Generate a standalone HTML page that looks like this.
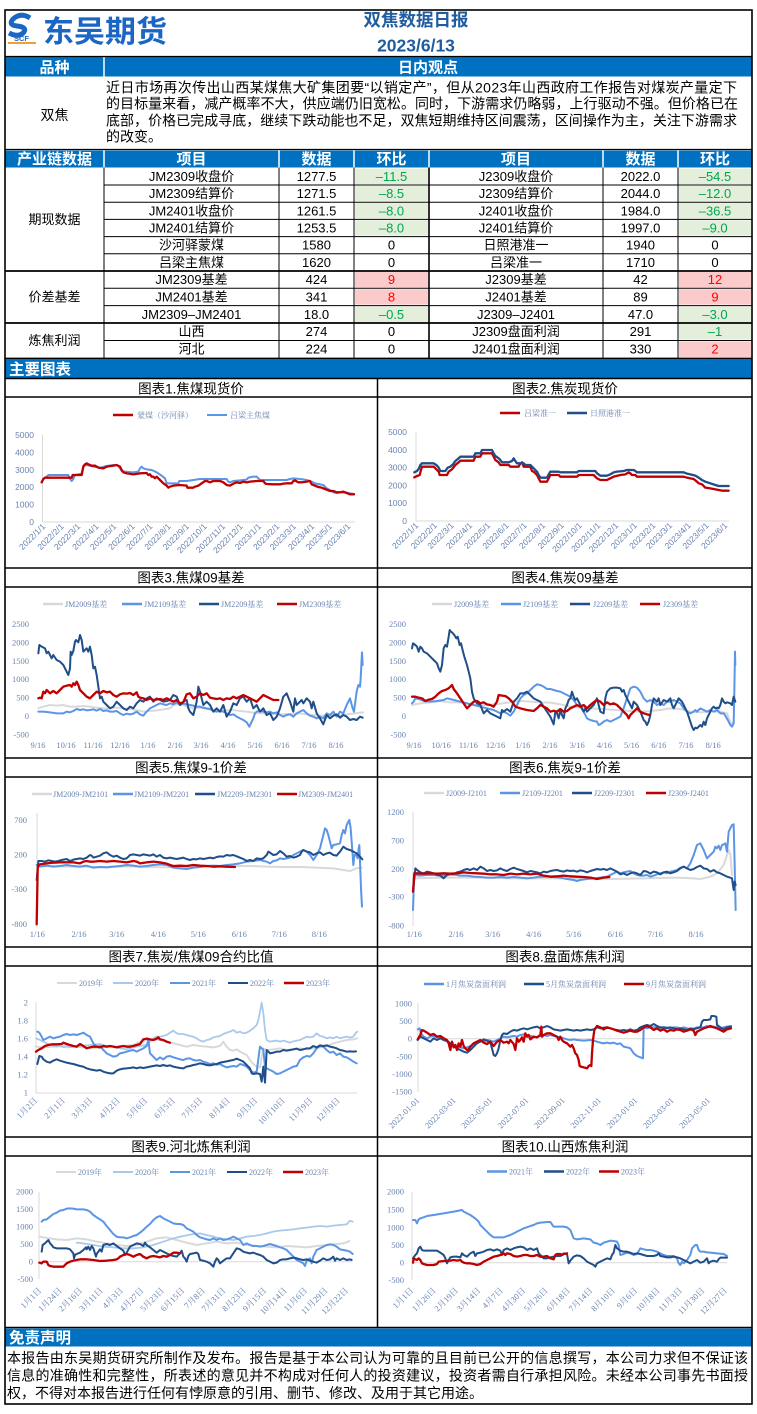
<!DOCTYPE html>
<html><head><meta charset="utf-8"><style>
html,body{margin:0;padding:0;background:#fff;}
svg{display:block;}
.t{font-family:"Liberation Sans","Noto Sans CJK SC",sans-serif;}
.s{font-family:"Liberation Serif","Noto Serif CJK SC",serif;}
.ax{font-family:"Liberation Sans","Noto Sans CJK SC",sans-serif;font-size:8.5px;fill:#6a84b0;}
.axs{font-family:"Liberation Serif","Noto Serif CJK SC",serif;font-size:8.5px;fill:#6a84b0;}
.lg{font-family:"Liberation Serif","Noto Serif CJK SC",serif;font-size:8px;fill:#6a84b0;}
.ct{font-family:"Liberation Sans","Noto Sans CJK SC",sans-serif;font-size:13.5px;fill:#000;text-anchor:middle;}
.cell{font-family:"Liberation Sans","Noto Sans CJK SC",sans-serif;font-size:13px;fill:#000;text-anchor:middle;}
.hd{font-family:"Liberation Sans","Noto Sans CJK SC",sans-serif;font-size:15px;font-weight:bold;fill:#fff;text-anchor:middle;}
.g{fill:#00a650;} .r{fill:#ff0000;}
polyline{fill:none;stroke-linejoin:round;stroke-linecap:round;vector-effect:non-scaling-stroke;}
.sr{stroke:#c00000;stroke-width:2.3;}
.sd{stroke:#1f4e88;stroke-width:2;}
.sl{stroke:#5b95e6;stroke-width:2;}
.sg{stroke:#d9d9d9;stroke-width:2;}
.sp{stroke:#a9c9ec;stroke-width:1.8;}
.axl{stroke:#d9d9d9;stroke-width:1;}
</style></head><body>
<svg width="757" height="1414" viewBox="0 0 757 1414" xmlns="http://www.w3.org/2000/svg">
<rect x="0" y="0" width="757" height="1414" fill="#fff"/>

<!-- ===== HEADER ===== -->
<path d="M30 18 Q21 12 13 19 Q8 25 17 26 Q27 27 24 32 Q19 38 9 33" stroke="#1a66c2" stroke-width="5" fill="none"/>
<text x="21.5" y="41" class="t" font-size="7.5" font-weight="bold" fill="#1a66c2" text-anchor="middle">SCF</text>
<rect x="8" y="42" width="28" height="2" fill="#f0a030"/>
<text x="43" y="42" class="t" font-size="30" font-weight="bold" fill="#1a66c2" textLength="124" lengthAdjust="spacingAndGlyphs">东吴期货</text>
<text x="416" y="26" class="t" font-size="17.5" font-weight="bold" fill="#1f5da0" text-anchor="middle">双焦数据日报</text>
<text x="416" y="51.5" class="t" font-size="17.5" font-weight="bold" fill="#1f5da0" text-anchor="middle">2023/6/13</text>

<rect x="5.5" y="57" width="746" height="19.5" fill="#0070c0"/>
<line x1="104" y1="57" x2="104" y2="76.5" stroke="#fff" stroke-width="1.5"/>
<text x="54.5" y="72.5" class="hd">品种</text>
<text x="428" y="72.5" class="hd">日内观点</text>
<line x1="5" y1="56.5" x2="752" y2="56.5" stroke="#000" stroke-width="1.2"/>

<text x="54.5" y="120" class="t" font-size="14" text-anchor="middle">双焦</text>
<g class="t" font-size="14" fill="#000">
<text x="106" y="92.5" textLength="631" lengthAdjust="spacing">近日市场再次传出山西某煤焦大矿集团要“以销定产”，但从2023年山西政府工作报告对煤炭产量定下</text>
<text x="106" y="108.5" textLength="632" lengthAdjust="spacing">的目标量来看，减产概率不大，供应端仍旧宽松。同时，下游需求仍略弱，上行驱动不强。但价格已在</text>
<text x="106" y="125.5" textLength="631" lengthAdjust="spacing">底部，价格已完成寻底，继续下跌动能也不足，双焦短期维持区间震荡，区间操作为主，关注下游需求</text>
<text x="106" y="141.5">的改变。</text>
</g>
<line x1="5" y1="149.5" x2="752" y2="149.5" stroke="#000" stroke-width="1.2"/>

<!-- ===== TABLE ===== -->
<rect x="5.5" y="150.5" width="746" height="17" fill="#0070c0"/>
<g stroke="#fff" stroke-width="1.5">
<line x1="104" y1="150.5" x2="104" y2="167.5"/><line x1="279" y1="150.5" x2="279" y2="167.5"/>
<line x1="354" y1="150.5" x2="354" y2="167.5"/><line x1="429" y1="150.5" x2="429" y2="167.5"/>
<line x1="603" y1="150.5" x2="603" y2="167.5"/><line x1="678" y1="150.5" x2="678" y2="167.5"/>
</g>
<text x="54.5" y="164" class="hd">产业链数据</text>
<text x="191.5" y="164" class="hd">项目</text>
<text x="316.5" y="164" class="hd">数据</text>
<text x="391.5" y="164" class="hd">环比</text>
<text x="516" y="164" class="hd">项目</text>
<text x="640.5" y="164" class="hd">数据</text>
<text x="715" y="164" class="hd">环比</text>

<g fill="#e3efdb">
<rect x="355" y="168.5" width="73" height="15.5"/><rect x="355" y="186" width="73" height="15.2"/>
<rect x="355" y="203.2" width="73" height="15.2"/><rect x="355" y="220.4" width="73" height="15.2"/>
<rect x="355" y="306.6" width="73" height="15.4"/>
<rect x="679" y="168.5" width="72" height="15.5"/><rect x="679" y="186" width="72" height="15.2"/>
<rect x="679" y="203.2" width="72" height="15.2"/><rect x="679" y="220.4" width="72" height="15.2"/>
<rect x="679" y="306.6" width="72" height="15.4"/><rect x="679" y="324" width="72" height="15.5"/>
</g>
<g fill="#fbcaca">
<rect x="355" y="272" width="73" height="15.3"/><rect x="355" y="289.3" width="73" height="15.3"/>
<rect x="679" y="272" width="72" height="15.3"/><rect x="679" y="289.3" width="72" height="15.3"/>
<rect x="679" y="341.5" width="72" height="15.5"/>
</g>

<g stroke="#000" stroke-width="1">
<line x1="104" y1="185" x2="752" y2="185"/><line x1="104" y1="202.2" x2="752" y2="202.2"/>
<line x1="104" y1="219.4" x2="752" y2="219.4"/><line x1="104" y1="236.6" x2="752" y2="236.6"/>
<line x1="104" y1="253.8" x2="752" y2="253.8"/>
<line x1="104" y1="288.3" x2="752" y2="288.3"/><line x1="104" y1="305.6" x2="752" y2="305.6"/>
<line x1="104" y1="340.5" x2="752" y2="340.5"/>
<line x1="104" y1="167.5" x2="104" y2="358"/><line x1="279" y1="167.5" x2="279" y2="358"/>
<line x1="354" y1="167.5" x2="354" y2="358"/><line x1="603" y1="167.5" x2="603" y2="358"/>
<line x1="678" y1="167.5" x2="678" y2="358"/>
</g>
<line x1="429" y1="167.5" x2="429" y2="358" stroke="#000" stroke-width="1.6"/>
<g stroke="#000" stroke-width="1.8">
<line x1="5" y1="271" x2="752" y2="271"/><line x1="5" y1="323" x2="752" y2="323"/>
<line x1="5" y1="358.5" x2="752" y2="358.5"/>
</g>

<text x="54.5" y="224" class="cell" font-size="14">期现数据</text>
<text x="54.5" y="301.5" class="cell" font-size="14">价差基差</text>
<text x="54.5" y="345" class="cell" font-size="14">炼焦利润</text>

<g class="cell">
<text x="191.5" y="181">JM2309收盘价</text><text x="316.5" y="181">1277.5</text><text x="391.5" y="181" class="cell g">–11.5</text>
<text x="516" y="181">J2309收盘价</text><text x="640.5" y="181">2022.0</text><text x="715" y="181" class="cell g">–54.5</text>
<text x="191.5" y="198">JM2309结算价</text><text x="316.5" y="198">1271.5</text><text x="391.5" y="198" class="cell g">–8.5</text>
<text x="516" y="198">J2309结算价</text><text x="640.5" y="198">2044.0</text><text x="715" y="198" class="cell g">–12.0</text>
<text x="191.5" y="215.3">JM2401收盘价</text><text x="316.5" y="215.3">1261.5</text><text x="391.5" y="215.3" class="cell g">–8.0</text>
<text x="516" y="215.3">J2401收盘价</text><text x="640.5" y="215.3">1984.0</text><text x="715" y="215.3" class="cell g">–36.5</text>
<text x="191.5" y="232.5">JM2401结算价</text><text x="316.5" y="232.5">1253.5</text><text x="391.5" y="232.5" class="cell g">–8.0</text>
<text x="516" y="232.5">J2401结算价</text><text x="640.5" y="232.5">1997.0</text><text x="715" y="232.5" class="cell g">–9.0</text>
<text x="191.5" y="249.7">沙河驿蒙煤</text><text x="316.5" y="249.7">1580</text><text x="391.5" y="249.7">0</text>
<text x="516" y="249.7">日照港准一</text><text x="640.5" y="249.7">1940</text><text x="715" y="249.7">0</text>
<text x="191.5" y="266.9">吕梁主焦煤</text><text x="316.5" y="266.9">1620</text><text x="391.5" y="266.9">0</text>
<text x="516" y="266.9">吕梁准一</text><text x="640.5" y="266.9">1710</text><text x="715" y="266.9">0</text>
<text x="191.5" y="284.1">JM2309基差</text><text x="316.5" y="284.1">424</text><text x="391.5" y="284.1" class="cell r">9</text>
<text x="516" y="284.1">J2309基差</text><text x="640.5" y="284.1">42</text><text x="715" y="284.1" class="cell r">12</text>
<text x="191.5" y="301.5">JM2401基差</text><text x="316.5" y="301.5">341</text><text x="391.5" y="301.5" class="cell r">8</text>
<text x="516" y="301.5">J2401基差</text><text x="640.5" y="301.5">89</text><text x="715" y="301.5" class="cell r">9</text>
<text x="191.5" y="318.8">JM2309–JM2401</text><text x="316.5" y="318.8">18.0</text><text x="391.5" y="318.8" class="cell g">–0.5</text>
<text x="516" y="318.8">J2309–J2401</text><text x="640.5" y="318.8">47.0</text><text x="715" y="318.8" class="cell g">–3.0</text>
<text x="191.5" y="336.2">山西</text><text x="316.5" y="336.2">274</text><text x="391.5" y="336.2">0</text>
<text x="516" y="336.2">J2309盘面利润</text><text x="640.5" y="336.2">291</text><text x="715" y="336.2" class="cell g">–1</text>
<text x="191.5" y="353.7">河北</text><text x="316.5" y="353.7">224</text><text x="391.5" y="353.7">0</text>
<text x="516" y="353.7">J2401盘面利润</text><text x="640.5" y="353.7">330</text><text x="715" y="353.7" class="cell r">2</text>
</g>

<!-- ===== 主要图表 bar ===== -->
<rect x="5.5" y="359" width="746" height="19.5" fill="#0070c0"/>
<text x="9" y="374.5" class="t" font-size="15.5" font-weight="bold" fill="#fff">主要图表</text>

<g stroke="#000" stroke-width="1.5">
<line x1="5" y1="378.5" x2="752" y2="378.5"/><line x1="5" y1="397" x2="752" y2="397"/>
<line x1="5" y1="568" x2="752" y2="568"/><line x1="5" y1="587" x2="752" y2="587"/>
<line x1="5" y1="758" x2="752" y2="758"/><line x1="5" y1="777" x2="752" y2="777"/>
<line x1="5" y1="947" x2="752" y2="947"/><line x1="5" y1="966" x2="752" y2="966"/>
<line x1="5" y1="1137" x2="752" y2="1137"/><line x1="5" y1="1156" x2="752" y2="1156"/>
<line x1="5" y1="1327.5" x2="752" y2="1327.5"/>
<line x1="377.5" y1="378" x2="377.5" y2="1327.5"/>
</g>

<text x="191" y="393.5" class="ct">图表1.焦煤现货价</text>
<text x="565" y="393.5" class="ct">图表2.焦炭现货价</text>
<text x="191" y="582.5" class="ct">图表3.焦煤09基差</text>
<text x="565" y="582.5" class="ct">图表4.焦炭09基差</text>
<text x="191" y="772.5" class="ct">图表5.焦煤9-1价差</text>
<text x="565" y="772.5" class="ct">图表6.焦炭9-1价差</text>
<text x="191" y="961.5" class="ct">图表7.焦炭/焦煤09合约比值</text>
<text x="565" y="961.5" class="ct">图表8.盘面炼焦利润</text>
<text x="191" y="1151.5" class="ct">图表9.河北炼焦利润</text>
<text x="565" y="1151.5" class="ct">图表10.山西炼焦利润</text>

<!-- ===== CHART 1 ===== -->
<line x1="113" y1="415" x2="133" y2="415" stroke="#c00000" stroke-width="2.5"/>
<text x="137" y="418" class="lg">蒙煤（沙河驿）</text>
<line x1="207" y1="415" x2="227" y2="415" stroke="#5b95e6" stroke-width="2"/>
<text x="230" y="418" class="lg">吕梁主焦煤</text>
<g class="ax" text-anchor="end">
<text x="34" y="438">5000</text><text x="34" y="455.4">4000</text><text x="34" y="472.8">3000</text>
<text x="34" y="490.2">2000</text><text x="34" y="507.6">1000</text><text x="34" y="525">0</text>
</g>
<line x1="42.5" y1="435" x2="42.5" y2="522" class="axl"/>
<line x1="42.5" y1="522" x2="355" y2="522" class="axl"/>
<g class="ax" text-anchor="end">
<text transform="translate(46,527) rotate(-45)">2022/1/1</text>
<text transform="translate(64.3,527) rotate(-45)">2022/2/1</text>
<text transform="translate(80.9,527) rotate(-45)">2022/3/1</text>
<text transform="translate(99.2,527) rotate(-45)">2022/4/1</text>
<text transform="translate(116.9,527) rotate(-45)">2022/5/1</text>
<text transform="translate(135.2,527) rotate(-45)">2022/6/1</text>
<text transform="translate(153,527) rotate(-45)">2022/7/1</text>
<text transform="translate(171.3,527) rotate(-45)">2022/8/1</text>
<text transform="translate(189.6,527) rotate(-45)">2022/9/1</text>
<text transform="translate(207.3,527) rotate(-45)">2022/10/1</text>
<text transform="translate(225.7,527) rotate(-45)">2022/11/1</text>
<text transform="translate(243.4,527) rotate(-45)">2022/12/1</text>
<text transform="translate(261.7,527) rotate(-45)">2023/1/1</text>
<text transform="translate(280,527) rotate(-45)">2023/2/1</text>
<text transform="translate(296.6,527) rotate(-45)">2023/3/1</text>
<text transform="translate(314.9,527) rotate(-45)">2023/4/1</text>
<text transform="translate(332.6,527) rotate(-45)">2023/5/1</text>
<text transform="translate(351,527) rotate(-45)">2023/6/1</text>
</g>
<g transform="translate(0,375) scale(0.3333333)">
<polyline class="sl" points="125,320 130,312 140,305 145,300 205,300 210,312 215,318 220,312 225,300 235,298 245,296 250,272 260,270 280,275 300,278 320,273 340,270 355,272 365,288 375,290 400,292 415,290 420,280 425,275 430,280 440,283 455,285 470,292 485,302 495,310 500,325 535,325 538,318 560,318 580,315 600,312 640,312 680,312 685,320 690,322 700,318 720,316 740,314 745,308 760,305 770,305 775,310 780,315 860,315 870,312 880,310 900,312 920,315 935,320 945,325 960,328 970,330 980,340 990,345 1000,352 1010,354 1020,352 1035,352 1050,355 1062,357"/>
<polyline class="sr" points="125,322 130,312 135,308 215,308 218,300 245,300 250,275 255,268 260,265 265,268 275,272 285,272 295,278 310,280 320,275 340,272 350,270 360,275 365,285 370,292 380,295 400,298 420,295 440,294 445,300 450,298 455,305 460,305 465,310 470,305 480,315 490,325 500,332 505,338 510,335 520,332 540,330 560,332 562,338 580,338 585,335 595,332 605,325 615,318 620,318 630,322 640,318 660,318 670,322 680,330 690,332 700,326 710,322 720,324 730,320 740,322 750,320 770,318 790,318 795,325 800,327 820,328 840,328 850,326 860,325 875,325 880,318 885,316 895,322 905,322 920,320 930,318 935,328 945,332 955,336 965,338 975,342 985,346 990,348 1000,348 1010,352 1020,352 1030,350 1040,354 1050,358 1062,358"/>
</g>

<!-- ===== CHART 2 ===== -->
<line x1="500" y1="413" x2="520" y2="413" stroke="#c00000" stroke-width="2.5"/>
<text x="524" y="416" class="lg">吕梁准一</text>
<line x1="567" y1="413" x2="587" y2="413" stroke="#1f4e88" stroke-width="2.5"/>
<text x="590" y="416" class="lg">日照港准一</text>
<g class="ax" text-anchor="end">
<text x="407" y="435">5000</text><text x="407" y="452.8">4000</text><text x="407" y="470.6">3000</text>
<text x="407" y="488.4">2000</text><text x="407" y="506.2">1000</text><text x="407" y="524">0</text>
</g>
<line x1="416" y1="432" x2="416" y2="521" class="axl"/>
<line x1="416" y1="521" x2="729" y2="521" class="axl"/>
<g class="ax" text-anchor="end">
<text transform="translate(419,526) rotate(-45)">2022/1/1</text>
<text transform="translate(437.6,526) rotate(-45)">2022/2/1</text>
<text transform="translate(454.3,526) rotate(-45)">2022/3/1</text>
<text transform="translate(472.9,526) rotate(-45)">2022/4/1</text>
<text transform="translate(490.9,526) rotate(-45)">2022/5/1</text>
<text transform="translate(509.4,526) rotate(-45)">2022/6/1</text>
<text transform="translate(527.4,526) rotate(-45)">2022/7/1</text>
<text transform="translate(545.9,526) rotate(-45)">2022/8/1</text>
<text transform="translate(564.5,526) rotate(-45)">2022/9/1</text>
<text transform="translate(582.5,526) rotate(-45)">2022/10/1</text>
<text transform="translate(601,526) rotate(-45)">2022/11/1</text>
<text transform="translate(619,526) rotate(-45)">2022/12/1</text>
<text transform="translate(637.6,526) rotate(-45)">2023/1/1</text>
<text transform="translate(656.1,526) rotate(-45)">2023/2/1</text>
<text transform="translate(672.9,526) rotate(-45)">2023/3/1</text>
<text transform="translate(691.5,526) rotate(-45)">2023/4/1</text>
<text transform="translate(709.4,526) rotate(-45)">2023/5/1</text>
<text transform="translate(728,526) rotate(-45)">2023/6/1</text>
</g>
<g transform="translate(377,375) scale(0.3333333)">
<polyline class="sr" points="112,307 120,303 128,300 132,285 135,275 170,275 175,280 185,290 188,300 210,300 215,290 225,283 235,270 245,262 250,257 290,257 295,245 310,245 315,235 345,235 350,245 355,255 365,262 370,270 395,270 400,275 425,275 430,265 435,262 440,275 460,275 465,288 470,290 480,300 485,310 490,320 510,320 515,310 520,300 545,300 550,305 600,305 605,300 650,300 655,305 660,310 670,315 690,315 700,310 710,305 730,300 745,298 755,292 760,295 765,300 775,300 780,305 920,305 930,308 940,310 950,312 960,320 965,325 975,328 985,338 1000,340 1010,342 1025,345 1035,347 1055,347"/>
<polyline class="sd" style="stroke-width:2.3" points="112,292 120,288 125,282 130,270 135,265 170,265 175,268 180,272 185,278 190,288 205,288 212,278 220,275 228,268 235,258 245,250 250,245 290,245 295,235 310,235 315,225 345,225 350,235 355,243 365,250 370,255 375,262 395,262 405,258 410,250 415,258 420,265 440,265 445,270 460,270 470,280 480,290 485,300 490,308 510,308 515,298 520,290 545,290 550,292 600,292 605,288 655,288 660,295 670,302 690,302 700,298 710,292 720,290 740,288 750,285 770,285 775,288 780,292 920,292 930,296 940,298 955,302 965,308 975,315 985,320 1000,325 1015,330 1025,333 1055,333"/>
</g>

<!-- ===== CHART 3 ===== -->
<line x1="43" y1="604" x2="63" y2="604" stroke="#d9d9d9" stroke-width="2.5"/><text x="65" y="607" class="lg">JM2009基差</text>
<line x1="122" y1="604" x2="142" y2="604" stroke="#5b95e6" stroke-width="2.5"/><text x="144" y="607" class="lg">JM2109基差</text>
<line x1="199" y1="604" x2="219" y2="604" stroke="#1f4e88" stroke-width="2.5"/><text x="221" y="607" class="lg">JM2209基差</text>
<line x1="277" y1="604" x2="297" y2="604" stroke="#c00000" stroke-width="2.5"/><text x="299" y="607" class="lg">JM2309基差</text>
<g class="axs" text-anchor="end">
<text x="29" y="627">2500</text><text x="29" y="645.4">2000</text><text x="29" y="663.8">1500</text>
<text x="29" y="682.2">1000</text><text x="29" y="700.6">500</text><text x="29" y="719">0</text><text x="29" y="737.4">-500</text>
</g>
<g class="axs" text-anchor="middle">
<text x="38" y="748">9/16</text><text x="66" y="748">10/16</text><text x="93" y="748">11/16</text><text x="120" y="748">12/16</text>
<text x="148" y="748">1/16</text><text x="175" y="748">2/16</text><text x="201" y="748">3/16</text><text x="228" y="748">4/16</text>
<text x="255" y="748">5/16</text><text x="282" y="748">6/16</text><text x="309" y="748">7/16</text><text x="336" y="748">8/16</text>
</g>
<g transform="translate(0,565) scale(0.3333333)">
<polyline class="sg" points="115,430 130,425 150,420 170,422 190,420 210,425 230,425 250,423 270,425 290,428 310,430 330,430 350,428 370,430 390,432 410,435 430,440 450,438 470,436 490,433 510,430 520,420 530,418 540,415 550,420 560,425 580,430 600,428 620,432 640,435 660,438 680,436 700,435 720,438 740,440 760,443 780,445 800,445 820,447 840,448 860,447 880,447 900,445 920,448 940,450 960,452 980,452 1000,450 1020,450 1040,448 1060,446 1080,443 1090,442"/>
<polyline class="sl" points="115,440 130,440 150,442 170,445 190,445 200,440 210,442 220,438 230,432 240,435 250,433 260,436 270,435 280,433 290,437 300,432 310,438 320,436 330,440 340,440 350,438 360,445 370,450 380,446 390,448 400,446 410,440 420,448 430,452 440,440 450,430 460,425 470,420 480,415 490,418 500,420 510,415 520,418 530,412 540,420 550,416 560,418 570,420 580,422 590,425 600,425 610,428 620,430 630,432 640,438 650,440 660,438 670,440 680,445 690,450 700,448 710,455 720,460 730,465 740,472 748,485 755,470 760,460 765,445 770,440 780,438 790,440 800,442 810,440 820,445 830,442 840,450 850,455 860,450 870,448 880,455 890,445 900,440 910,435 920,445 930,452 940,455 950,460 960,455 970,460 980,445 990,450 1000,440 1010,455 1020,440 1030,445 1040,420 1050,400 1058,430 1062,440 1070,380 1075,360 1080,365 1082,340 1086,262 1088,300"/>
<polyline class="sd" points="115,265 118,240 125,245 135,250 140,265 145,260 155,280 160,270 170,285 180,290 190,300 200,320 205,330 210,310 212,260 215,270 220,258 225,230 228,225 235,232 240,210 245,225 250,260 260,250 265,260 270,245 275,270 280,310 285,305 290,330 300,400 305,395 310,410 320,420 330,430 340,425 350,410 360,420 370,430 380,435 390,425 400,430 410,415 420,405 430,410 440,400 450,395 460,410 470,400 480,405 490,410 500,408 510,405 520,390 530,395 540,420 550,410 560,405 565,430 570,440 580,450 590,410 595,365 600,380 605,400 610,420 620,410 630,420 640,440 650,430 660,440 670,420 680,455 690,440 700,415 710,420 720,400 730,395 740,410 750,400 760,430 770,420 780,440 790,430 800,450 810,445 820,465 830,455 840,430 850,395 860,385 870,410 880,440 885,400 890,420 900,410 905,405 910,415 920,400 930,410 935,430 940,410 950,445 960,460 970,478 980,450 990,460 1000,452 1010,448 1020,458 1030,450 1040,455 1050,465 1060,462 1070,465 1080,455 1088,458"/>
<polyline class="sr" points="115,400 120,398 125,400 130,380 135,385 140,375 150,385 160,378 170,385 180,375 185,370 190,365 200,362 210,360 215,365 220,355 225,360 230,350 235,360 240,375 250,385 260,395 270,400 280,390 290,380 300,385 310,378 320,382 330,380 340,390 350,395 360,388 370,385 380,386 390,384 400,390 410,382 415,395 420,398 430,400 440,405 450,400 460,405 480,402 490,405 500,400 510,405 520,410 530,405 540,415 550,412 560,388 570,385 580,400 590,395 600,385 610,390 620,385 630,398 640,400 650,402 660,400 670,405 680,400 690,402 700,395 710,400 720,395 730,390 740,395 750,400 760,405 770,410 780,400 790,390 800,395 810,400 820,405 835,405"/>
</g>

<!-- ===== CHART 4 ===== -->
<line x1="432" y1="604" x2="452" y2="604" stroke="#d9d9d9" stroke-width="2.5"/><text x="454" y="607" class="lg">J2009基差</text>
<line x1="501" y1="604" x2="521" y2="604" stroke="#5b95e6" stroke-width="2.5"/><text x="523" y="607" class="lg">J2109基差</text>
<line x1="570" y1="604" x2="590" y2="604" stroke="#1f4e88" stroke-width="2.5"/><text x="593" y="607" class="lg">J2209基差</text>
<line x1="640" y1="604" x2="660" y2="604" stroke="#c00000" stroke-width="2.5"/><text x="663" y="607" class="lg">J2309基差</text>
<g class="axs" text-anchor="end">
<text x="406" y="627">2500</text><text x="406" y="645.4">2000</text><text x="406" y="663.8">1500</text>
<text x="406" y="682.2">1000</text><text x="406" y="700.6">500</text><text x="406" y="719">0</text><text x="406" y="737.4">-500</text>
</g>
<g class="axs" text-anchor="middle">
<text x="414" y="748">9/16</text><text x="441.2" y="748">10/16</text><text x="468.4" y="748">11/16</text><text x="495.6" y="748">12/16</text>
<text x="522.8" y="748">1/16</text><text x="550" y="748">2/16</text><text x="577.2" y="748">3/16</text><text x="604.4" y="748">4/16</text>
<text x="631.6" y="748">5/16</text><text x="658.8" y="748">6/16</text><text x="686" y="748">7/16</text><text x="713.2" y="748">8/16</text>
</g>
<g transform="translate(377,565) scale(0.3333333)">
<polyline class="sg" points="105,420 130,415 160,412 190,408 220,412 250,412 280,418 310,420 340,420 370,416 400,412 430,408 460,410 490,412 520,413 550,418 580,425 610,428 640,430 670,432 700,434 730,436 760,438 790,440 820,438 850,435 880,430 910,432 940,440 970,442 1000,440 1030,440 1050,445 1060,470 1065,480 1070,470"/>
<polyline class="sl" points="105,415 110,410 115,400 125,402 140,408 160,410 180,408 200,405 210,400 230,405 250,410 270,415 290,420 310,425 330,430 350,435 360,440 370,445 380,440 390,445 400,452 410,440 420,420 430,400 440,390 450,385 460,375 470,365 480,358 490,360 500,365 510,372 520,372 530,375 540,378 550,380 560,385 570,390 580,395 590,405 600,420 610,425 620,440 630,460 640,465 650,468 660,470 665,480 670,478 680,470 690,465 700,470 710,465 720,460 730,455 740,430 750,400 760,370 770,365 780,368 790,380 800,400 810,410 820,405 830,410 840,420 850,415 860,420 870,410 880,410 890,405 900,410 910,415 920,430 930,440 940,445 950,440 955,435 960,440 970,430 980,435 990,440 1000,435 1010,440 1020,435 1030,445 1040,445 1045,452 1055,470 1060,480 1065,485 1070,475 1072,380 1074,260 1075,300"/>
<polyline class="sd" points="105,250 108,235 115,240 120,245 125,260 130,245 135,250 140,260 150,265 160,275 170,285 180,295 185,310 190,320 195,300 200,250 205,240 210,245 215,215 218,195 222,200 228,205 232,210 238,220 242,215 248,240 252,235 258,260 262,275 270,300 280,340 285,380 290,400 300,415 310,420 320,445 330,435 340,445 350,450 360,455 370,460 375,435 380,440 390,432 400,440 410,410 420,400 430,385 440,385 450,380 460,390 470,400 480,405 490,410 500,425 510,440 520,455 530,478 535,440 540,445 545,460 550,435 555,450 560,460 565,430 570,420 575,405 580,400 585,380 590,395 595,405 600,400 610,420 620,440 625,430 630,440 640,430 650,420 655,410 660,400 665,420 670,440 680,445 685,400 690,380 700,370 710,368 720,368 730,370 735,380 740,375 745,390 750,400 755,410 760,420 765,430 770,410 780,420 790,440 800,465 805,470 810,480 815,470 820,450 825,420 830,400 840,410 845,400 850,420 860,405 870,410 880,400 885,420 890,430 900,410 905,400 910,405 915,410 920,420 925,430 930,440 940,470 945,485 950,495 955,488 960,490 970,480 975,485 980,470 985,480 990,460 995,450 1000,440 1005,430 1010,425 1015,430 1020,428 1025,430 1030,420 1035,400 1040,410 1045,415 1050,412 1060,415 1065,420 1070,395 1075,410"/>
<polyline class="sr" points="105,395 115,395 125,398 135,400 145,408 155,404 165,402 175,395 185,385 195,378 205,375 215,370 220,365 225,360 230,372 240,385 250,400 260,415 270,430 280,420 290,410 300,408 310,415 320,412 330,418 340,420 350,425 360,410 365,390 375,392 385,393 395,400 405,410 415,425 430,430 450,435 470,438 480,430 490,420 500,425 510,430 520,440 530,437 540,440 550,432 560,440 570,438 580,430 590,425 600,420 610,425 620,420 630,430 640,420 650,412 660,405 670,410 680,420 690,412 700,418 710,415 720,420 730,430 740,440 750,450 755,460 760,450 770,440 780,430 790,440 800,445 810,448 818,450"/>
</g>

<!-- ===== CHART 5 ===== -->
<line x1="32" y1="794" x2="52" y2="794" stroke="#d9d9d9" stroke-width="2.5"/><text x="53" y="797" class="lg">JM2009-JM2101</text>
<line x1="113" y1="794" x2="133" y2="794" stroke="#5b95e6" stroke-width="2.5"/><text x="134" y="797" class="lg">JM2109-JM2201</text>
<line x1="195" y1="794" x2="215" y2="794" stroke="#1f4e88" stroke-width="2.5"/><text x="217" y="797" class="lg">JM2209-JM2301</text>
<line x1="277" y1="794" x2="297" y2="794" stroke="#c00000" stroke-width="2.5"/><text x="298" y="797" class="lg">JM2309-JM2401</text>
<g class="axs" text-anchor="end">
<text x="27" y="823">700</text><text x="27" y="857.3">200</text><text x="27" y="892">-300</text><text x="27" y="927">-800</text>
</g>
<line x1="37" y1="813" x2="37" y2="925" class="axl"/>
<g class="axs" text-anchor="middle">
<text x="37.3" y="937">1/16</text><text x="79" y="937">2/16</text><text x="116.7" y="937">3/16</text><text x="158.3" y="937">4/16</text>
<text x="198.3" y="937">5/16</text><text x="239.3" y="937">6/16</text><text x="279.3" y="937">7/16</text><text x="319.3" y="937">8/16</text>
</g>
<g transform="translate(0,755) scale(0.3333333)">
<polyline class="sg" points="110,335 150,333 200,335 250,335 300,336 350,335 400,335 450,336 500,337 550,336 600,335 650,334 700,333 750,333 800,335 850,336 900,336 950,338 1000,340 1030,345 1050,348 1070,340 1085,338"/>
<polyline class="sl" points="110,330 120,335 140,332 160,335 180,333 200,330 220,333 240,335 260,332 280,338 300,336 320,337 340,335 360,333 380,330 400,332 420,335 440,333 460,330 480,328 500,330 520,338 540,340 560,342 580,338 600,336 620,333 640,332 660,333 680,330 700,328 720,325 740,320 760,318 780,315 800,320 810,325 820,318 830,316 840,310 850,312 860,310 870,308 880,300 890,295 900,290 910,285 920,290 930,300 940,315 950,300 960,280 970,240 975,220 980,225 985,240 990,260 995,280 1000,270 1010,268 1020,265 1025,240 1030,225 1035,235 1040,210 1045,200 1048,195 1052,220 1055,260 1058,300 1060,330 1063,300 1068,300 1073,310 1076,280 1078,270 1080,320 1083,400 1086,455"/>
<polyline class="sd" points="110,375 115,318 125,318 135,320 145,316 155,318 165,320 175,318 185,315 200,312 210,318 220,314 230,312 240,310 250,312 260,308 270,300 275,302 280,308 290,305 300,302 310,295 320,292 330,300 340,305 350,302 360,308 370,312 380,310 390,300 400,298 410,300 420,302 430,298 440,300 450,302 460,298 470,305 480,300 490,308 500,310 510,308 520,310 530,312 540,310 550,308 560,312 570,315 580,312 590,313 600,310 610,312 620,310 630,308 640,310 650,306 660,304 670,305 680,300 690,302 700,300 710,304 720,308 730,312 740,318 750,315 760,318 770,310 780,312 790,310 800,300 805,290 810,293 820,300 830,298 840,288 850,295 860,305 870,303 880,308 890,305 900,300 905,290 910,285 920,290 930,292 940,300 950,295 960,292 970,300 980,295 990,293 1000,300 1010,302 1020,290 1030,275 1040,282 1050,285 1060,290 1070,295 1080,305 1087,313"/>
<polyline class="sr" points="110,508 113,340 116,330 120,328 140,325 160,323 180,322 200,322 220,322 240,325 250,320 260,318 270,320 280,320 300,318 320,320 340,318 360,320 380,322 400,318 410,320 420,325 440,322 460,320 480,322 500,326 510,330 520,333 540,332 560,333 580,330 600,332 620,333 640,335 660,334 680,335 705,336"/>
</g>

<!-- ===== CHART 6 ===== -->
<line x1="424" y1="793" x2="444" y2="793" stroke="#d9d9d9" stroke-width="2.5"/><text x="446" y="796" class="lg">J2009-J2101</text>
<line x1="500" y1="793" x2="520" y2="793" stroke="#5b95e6" stroke-width="2.5"/><text x="522" y="796" class="lg">J2109-J2201</text>
<line x1="572" y1="793" x2="592" y2="793" stroke="#1f4e88" stroke-width="2.5"/><text x="594" y="796" class="lg">J2209-J2301</text>
<line x1="646" y1="793" x2="666" y2="793" stroke="#c00000" stroke-width="2.5"/><text x="668" y="796" class="lg">J2309-J2401</text>
<g class="axs" text-anchor="end">
<text x="404" y="815">1200</text><text x="404" y="843.7">700</text><text x="404" y="872">200</text><text x="404" y="899.7">-300</text><text x="404" y="928.7">-800</text>
</g>
<line x1="413" y1="812" x2="413" y2="926" class="axl"/>
<g class="axs" text-anchor="middle">
<text x="414.3" y="937">1/16</text><text x="456" y="937">2/16</text><text x="492.7" y="937">3/16</text><text x="533.7" y="937">4/16</text>
<text x="573.7" y="937">5/16</text><text x="615.3" y="937">6/16</text><text x="655.3" y="937">7/16</text><text x="696" y="937">8/16</text>
</g>
<g transform="translate(377,755) scale(0.3333333)">
<polyline class="sg" points="108,370 200,368 300,368 400,370 500,370 600,370 700,372 800,370 900,368 950,370 970,372 1000,365 1020,355 1040,330 1050,300 1055,285 1060,300 1065,360"/>
<polyline class="sl" points="108,465 111,370 115,360 130,362 150,360 170,360 190,362 210,360 230,358 250,362 270,362 290,365 310,366 330,368 350,368 370,366 390,368 410,366 430,368 450,370 470,368 490,365 510,365 530,366 550,368 570,372 590,375 600,378 610,375 630,372 650,370 670,368 690,365 700,360 710,355 720,350 730,355 740,352 750,350 760,348 770,355 780,360 790,362 800,362 810,360 820,365 830,362 840,358 850,355 860,352 870,355 880,350 890,348 900,345 910,338 920,335 930,340 940,325 950,300 960,270 970,265 980,285 990,310 1000,300 1010,290 1015,275 1020,280 1025,272 1030,285 1035,270 1040,268 1045,265 1050,290 1055,230 1060,220 1065,210 1070,208 1073,330 1076,465"/>
<polyline class="sd" points="108,410 112,370 115,340 120,345 130,352 140,355 150,350 160,352 170,355 180,360 190,362 200,370 210,360 220,356 230,358 240,352 250,350 260,345 270,342 280,345 290,340 300,345 310,335 320,340 330,348 340,345 350,348 360,346 370,340 380,345 390,348 400,342 410,338 420,342 430,345 440,348 450,352 460,348 470,350 480,352 490,355 500,350 510,352 520,348 530,346 540,345 550,348 560,350 570,346 580,348 590,347 600,350 610,346 620,348 630,352 640,348 650,345 660,342 670,344 680,342 690,345 700,340 710,345 720,350 730,358 740,355 750,360 760,355 770,352 780,355 790,360 800,348 810,350 820,356 830,350 840,352 850,358 860,352 870,350 880,355 890,352 900,348 910,340 920,335 930,340 940,345 950,342 960,336 970,332 980,340 990,342 1000,350 1010,345 1020,352 1030,355 1040,360 1050,365 1060,368 1065,370 1070,405 1073,380 1076,390"/>
<polyline class="sr" points="108,410 112,355 120,355 140,356 160,355 180,356 200,355 220,356 240,355 260,352 280,354 300,355 320,356 340,358 360,358 380,360 400,356 420,358 440,356 460,358 480,356 500,362 520,365 540,364 560,362 580,364 600,365 620,366 640,368 660,372 680,368 697,366"/>
</g>

<!-- ===== CHART 7 ===== -->
<line x1="57" y1="983" x2="77" y2="983" stroke="#d9d9d9" stroke-width="2"/><text x="79" y="986" class="lg">2019年</text>
<line x1="113" y1="983" x2="133" y2="983" stroke="#a9c9ec" stroke-width="2"/><text x="135" y="986" class="lg">2020年</text>
<line x1="170" y1="983" x2="190" y2="983" stroke="#5b95e6" stroke-width="2"/><text x="192" y="986" class="lg">2021年</text>
<line x1="228" y1="983" x2="248" y2="983" stroke="#1f4e88" stroke-width="2"/><text x="250" y="986" class="lg">2022年</text>
<line x1="284" y1="983" x2="304" y2="983" stroke="#c00000" stroke-width="2.5"/><text x="306" y="986" class="lg">2023年</text>
<g class="axs" text-anchor="end">
<text x="28" y="1005.3">2</text><text x="28" y="1023.3">1.8</text><text x="28" y="1041.3">1.6</text>
<text x="28" y="1059.3">1.4</text><text x="28" y="1077.3">1.2</text><text x="28" y="1095.7">1</text>
</g>
<line x1="36" y1="1002" x2="36" y2="1093" class="axl"/>
<line x1="36" y1="1093" x2="357" y2="1093" class="axl"/>
<g class="axs" text-anchor="end">
<text transform="translate(38,1101) rotate(-45)">1月2日</text>
<text transform="translate(65.5,1101) rotate(-45)">2月1日</text>
<text transform="translate(93,1101) rotate(-45)">3月3日</text>
<text transform="translate(120.5,1101) rotate(-45)">4月2日</text>
<text transform="translate(148,1101) rotate(-45)">5月6日</text>
<text transform="translate(175.5,1101) rotate(-45)">6月5日</text>
<text transform="translate(203,1101) rotate(-45)">7月5日</text>
<text transform="translate(230.5,1101) rotate(-45)">8月4日</text>
<text transform="translate(258,1101) rotate(-45)">9月3日</text>
<text transform="translate(285.5,1101) rotate(-45)">10月10日</text>
<text transform="translate(313,1101) rotate(-45)">11月9日</text>
<text transform="translate(340.5,1101) rotate(-45)">12月9日</text>
</g>
<g transform="translate(0,940) scale(0.3333333)">
<polyline class="sg" points="108,320 130,322 160,320 190,318 220,320 250,322 280,325 310,322 340,320 370,318 400,315 420,305 440,300 460,298 480,300 500,305 520,310 540,315 560,320 580,315 600,318 620,320 640,322 660,318 670,305 680,320 690,330 700,332 710,328 720,335 730,340 740,345 750,360 760,372 770,380 780,382 790,325 800,330 820,328 840,325 860,330 880,328 900,325 920,328 940,325 960,322 980,318 1000,310 1020,305 1040,300 1060,298 1072,295"/>
<polyline class="sp" points="108,295 120,300 130,305 140,310 150,315 160,318 170,320 180,318 190,322 200,320 210,322 220,320 240,318 260,316 280,314 300,312 320,318 340,320 360,325 380,328 400,322 420,318 440,315 450,305 460,295 470,290 480,290 490,288 500,285 510,278 520,272 530,280 540,282 550,282 560,285 570,288 580,290 590,295 600,302 610,305 620,300 630,298 640,292 650,290 660,288 670,282 680,278 690,275 700,270 710,278 720,275 730,280 740,278 750,272 760,265 770,255 775,240 780,215 785,188 790,220 795,270 800,300 810,305 820,303 830,302 840,305 850,302 860,305 870,308 880,304 890,302 900,300 910,295 920,290 930,292 940,290 950,280 960,288 970,290 980,295 990,292 1000,295 1010,290 1020,295 1030,292 1040,290 1050,293 1060,290 1068,278 1072,275"/>
<polyline class="sl" points="112,275 118,278 125,290 130,300 140,295 150,290 160,295 170,292 180,290 190,285 200,282 210,285 220,283 230,285 240,282 250,278 260,285 270,290 275,300 280,310 290,320 300,318 310,330 320,340 330,345 340,350 350,348 360,340 370,338 380,335 390,332 400,330 410,335 420,330 430,325 440,318 445,300 450,340 460,350 470,360 480,352 490,358 500,350 510,348 520,352 530,355 540,358 550,360 560,356 570,355 580,360 590,362 600,360 610,365 620,368 630,372 640,370 650,374 660,372 670,378 680,382 690,380 700,378 710,380 720,372 730,375 740,380 750,390 760,398 770,395 780,320 785,325 790,328 795,380 800,385 810,390 820,395 830,402 840,400 850,395 860,390 870,385 880,380 890,378 900,360 910,352 920,348 930,350 940,340 950,325 960,318 970,320 980,330 990,338 1000,335 1010,345 1020,340 1030,350 1040,352 1050,358 1060,365 1070,370"/>
<polyline class="sd" points="112,372 118,348 125,350 130,358 140,365 150,368 160,362 170,358 180,362 190,365 200,368 210,370 220,372 230,375 240,378 250,380 260,385 270,388 280,390 290,392 300,390 310,395 320,398 330,400 340,400 350,392 360,388 370,386 380,385 390,384 400,382 410,385 420,382 430,384 440,382 450,380 460,378 470,376 480,378 490,375 500,378 510,376 520,380 530,382 540,384 550,385 560,380 570,378 580,375 590,373 600,370 610,372 620,375 630,376 640,374 650,372 660,368 670,366 680,364 690,362 700,360 710,356 720,360 730,365 740,375 750,385 755,400 760,402 770,400 780,402 785,425 790,380 795,428 800,330 810,340 820,338 830,335 840,335 850,330 860,332 870,330 880,328 890,326 900,330 910,328 920,325 930,325 940,318 950,322 960,316 970,318 980,316 990,320 1000,322 1010,325 1020,330 1030,332 1040,335 1050,334 1060,335 1068,334"/>
<polyline class="sr" points="108,335 115,330 125,325 135,318 145,315 155,313 170,313 185,312 190,308 200,312 210,315 220,318 230,320 240,312 250,318 260,325 270,322 280,320 290,320 300,322 310,318 320,320 330,318 340,320 350,322 360,320 370,318 380,320 390,320 400,318 410,315 420,312 425,305 430,298 440,296 450,298 460,300 470,296 475,292 480,298 490,300 500,305 510,308"/>
</g>

<!-- ===== CHART 8 ===== -->
<line x1="424" y1="984" x2="444" y2="984" stroke="#5b95e6" stroke-width="2.5"/><text x="446" y="987" class="lg">1月焦炭盘面利润</text>
<line x1="524" y1="984" x2="544" y2="984" stroke="#1f4e88" stroke-width="2.5"/><text x="546" y="987" class="lg">5月焦炭盘面利润</text>
<line x1="624" y1="984" x2="644" y2="984" stroke="#c00000" stroke-width="2.5"/><text x="646" y="987" class="lg">9月焦炭盘面利润</text>
<g class="axs" text-anchor="end">
<text x="412" y="1006.3">1000</text><text x="412" y="1024">500</text><text x="412" y="1041.7">0</text>
<text x="412" y="1059.3">-500</text><text x="412" y="1077">-1000</text><text x="412" y="1094.7">-1500</text>
</g>
<line x1="418" y1="1003" x2="418" y2="1092" class="axl"/>
<line x1="418" y1="1038.7" x2="732" y2="1038.7" class="axl"/>
<g class="axs" text-anchor="end">
<text transform="translate(420,1101) rotate(-45)">2022-01-01</text>
<text transform="translate(456.3,1101) rotate(-45)">2022-03-01</text>
<text transform="translate(492.7,1101) rotate(-45)">2022-05-01</text>
<text transform="translate(529,1101) rotate(-45)">2022-07-01</text>
<text transform="translate(565.3,1101) rotate(-45)">2022-09-01</text>
<text transform="translate(601.7,1101) rotate(-45)">2022-11-01</text>
<text transform="translate(638,1101) rotate(-45)">2023-01-01</text>
<text transform="translate(674.3,1101) rotate(-45)">2023-03-01</text>
<text transform="translate(710.7,1101) rotate(-45)">2023-05-01</text>
</g>
<g transform="translate(377,940) scale(0.3333333)">
<polyline class="sl" points="122,268 128,265 132,280 140,290 150,295 160,290 170,288 180,292 190,295 200,300 210,305 220,310 230,315 240,318 250,322 260,325 270,322 280,318 290,312 300,305 310,300 320,305 330,300 340,302 350,305 360,300 370,295 380,290 390,292 400,290 410,288 420,290 430,285 440,283 450,285 460,288 470,290 480,292 490,288 500,285 510,288 520,285 530,288 540,290 550,292 560,295 570,298 580,300 590,298 600,300 620,302 640,300 650,302 660,305 670,308 680,310 690,308 700,310 710,308 720,312 730,310 740,320 750,322 760,325 770,340 780,348 790,352 798,355 800,262 810,265 820,262 830,262 840,262 850,268 860,262 870,262 880,265 890,262 900,262 910,265 920,262 930,265 940,268 950,265 960,262 970,262 980,262 990,258 1000,262 1010,260 1020,262 1030,265 1040,262 1050,260 1062,258"/>
<polyline class="sd" points="122,300 130,290 140,295 150,300 160,305 170,295 180,300 190,295 200,300 210,302 220,310 230,320 240,325 250,330 260,335 270,338 280,330 290,320 300,310 310,305 320,298 330,302 340,308 345,325 350,345 355,348 360,340 365,325 370,300 375,285 380,280 390,282 400,275 410,270 420,272 430,268 440,265 450,268 460,265 470,262 480,260 490,265 500,262 510,258 520,262 530,268 540,270 550,272 560,270 570,268 580,270 590,272 600,270 610,272 620,270 630,268 640,270 650,268 660,262 670,265 680,263 690,262 700,265 710,268 720,270 730,272 740,270 750,272 760,268 770,272 780,270 790,262 800,258 810,255 820,258 830,252 840,258 850,262 860,262 870,265 880,262 890,265 900,268 910,265 920,268 930,270 940,265 950,268 960,265 970,262 975,245 980,240 990,240 1000,238 1003,228 1010,228 1018,230 1020,255 1030,262 1040,268 1050,262 1062,260"/>
<polyline class="sr" points="122,298 130,285 135,270 140,272 150,278 160,285 170,282 180,290 190,288 200,295 210,300 215,310 220,330 225,305 230,322 235,315 240,330 245,310 250,320 255,300 260,318 265,325 270,330 275,328 280,320 290,310 300,305 310,300 320,308 330,312 340,305 350,318 360,305 370,300 380,308 390,305 395,310 400,300 410,312 415,330 420,295 425,305 430,300 435,292 440,305 445,280 450,290 455,285 460,298 470,290 480,292 490,285 493,260 495,290 500,285 510,280 520,280 530,285 540,290 545,300 550,290 555,300 560,305 570,310 580,320 585,315 590,325 595,340 600,345 605,360 608,378 612,380 620,382 630,385 635,378 640,375 643,378 645,340 648,300 652,270 660,258 670,262 680,268 690,262 700,265 710,268 720,272 730,275 740,278 750,275 760,272 770,275 780,275 790,270 800,262 810,258 820,262 830,270 840,265 850,272 860,268 870,275 880,270 890,272 900,268 910,270 920,275 930,272 940,268 950,272 955,285 960,275 970,270 980,265 990,262 1000,258 1010,262 1020,265 1030,270 1040,275 1050,268 1062,265"/>
</g>

<!-- ===== CHART 9 ===== -->
<line x1="56" y1="1172" x2="76" y2="1172" stroke="#d9d9d9" stroke-width="2"/><text x="78" y="1175" class="lg">2019年</text>
<line x1="113" y1="1172" x2="133" y2="1172" stroke="#a9c9ec" stroke-width="2"/><text x="135" y="1175" class="lg">2020年</text>
<line x1="170" y1="1172" x2="190" y2="1172" stroke="#5b95e6" stroke-width="2"/><text x="192" y="1175" class="lg">2021年</text>
<line x1="227" y1="1172" x2="247" y2="1172" stroke="#1f4e88" stroke-width="2"/><text x="249" y="1175" class="lg">2022年</text>
<line x1="283" y1="1172" x2="303" y2="1172" stroke="#c00000" stroke-width="2.5"/><text x="305" y="1175" class="lg">2023年</text>
<g class="axs" text-anchor="end">
<text x="33" y="1194.7">2000</text><text x="33" y="1212.2">1500</text><text x="33" y="1229.7">1000</text>
<text x="33" y="1247.2">500</text><text x="33" y="1264.7">0</text><text x="33" y="1282">-500</text>
</g>
<line x1="39" y1="1192" x2="39" y2="1279" class="axl"/>
<line x1="39" y1="1261.7" x2="352" y2="1261.7" class="axl"/>
<g class="axs" text-anchor="end" font-size="8">
<text transform="translate(42,1291) rotate(-45)">1月1日</text>
<text transform="translate(62.5,1291) rotate(-45)">1月24日</text>
<text transform="translate(82.9,1291) rotate(-45)">2月16日</text>
<text transform="translate(103.4,1291) rotate(-45)">3月11日</text>
<text transform="translate(123.8,1291) rotate(-45)">4月3日</text>
<text transform="translate(144.3,1291) rotate(-45)">4月27日</text>
<text transform="translate(164.7,1291) rotate(-45)">5月23日</text>
<text transform="translate(185.2,1291) rotate(-45)">6月15日</text>
<text transform="translate(205.6,1291) rotate(-45)">7月8日</text>
<text transform="translate(226.1,1291) rotate(-45)">7月31日</text>
<text transform="translate(246.5,1291) rotate(-45)">8月23日</text>
<text transform="translate(267,1291) rotate(-45)">9月15日</text>
<text transform="translate(287.4,1291) rotate(-45)">10月14日</text>
<text transform="translate(307.9,1291) rotate(-45)">11月6日</text>
<text transform="translate(328.3,1291) rotate(-45)">11月29日</text>
<text transform="translate(348.8,1291) rotate(-45)">12月22日</text>
</g>
<g transform="translate(0,1130) scale(0.3333333)">
<polyline class="sg" points="118,320 130,322 150,325 170,328 200,330 230,325 260,328 290,335 320,340 350,345 380,348 410,345 440,335 470,325 500,322 530,330 560,338 590,345 620,340 650,335 680,340 710,338 740,345 770,348 800,350 830,352 860,348 890,350 920,352 950,348 980,345 1010,342 1030,340 1045,335 1048,332"/>
<polyline class="sp" points="230,338 250,340 280,345 310,350 340,352 370,355 400,355 430,352 460,345 490,335 520,325 550,318 580,312 600,310 620,315 640,320 660,325 680,328 700,330 720,325 740,320 760,318 780,315 800,310 820,305 840,302 860,300 880,298 900,295 920,293 940,290 960,288 980,290 1000,287 1020,285 1040,283 1050,272 1058,275"/>
<polyline class="sl" points="125,275 130,270 140,268 150,260 160,252 170,248 180,242 190,240 200,236 210,235 220,236 230,238 250,238 260,240 270,245 280,255 290,262 300,268 310,275 320,288 330,300 340,312 350,320 360,322 370,322 380,325 390,322 400,318 410,315 420,308 430,300 440,290 450,282 460,270 470,262 480,258 490,265 500,270 510,275 520,280 530,282 540,282 550,285 560,295 570,300 580,305 590,315 600,322 610,325 620,328 630,330 640,325 650,330 660,325 670,330 680,328 690,325 700,320 710,325 720,330 730,345 740,340 750,345 760,348 770,348 780,350 790,348 800,345 810,342 820,345 830,348 840,352 850,355 860,360 870,370 880,380 890,390 900,395 910,400 915,408 920,392 930,385 935,400 940,380 945,370 950,360 960,355 970,350 980,345 990,343 1000,345 1010,350 1020,358 1030,360 1040,362 1050,365 1058,372"/>
<polyline class="sd" points="125,365 128,345 135,340 140,335 145,330 150,340 155,345 160,352 170,355 180,355 190,355 200,355 210,358 220,370 222,385 225,375 230,372 240,368 250,360 258,352 260,358 265,350 270,360 275,348 280,355 288,380 290,372 300,358 305,365 310,345 320,342 330,345 340,340 350,348 360,355 370,362 375,375 380,368 390,350 400,345 410,340 420,342 430,348 435,338 440,345 450,352 460,360 470,368 480,360 490,365 500,370 510,375 520,378 530,380 540,370 545,362 550,380 555,385 560,395 565,378 570,372 580,370 590,368 595,372 600,390 610,392 620,395 630,400 635,405 640,410 645,395 650,385 655,390 660,400 670,392 680,385 690,385 700,370 710,355 720,358 730,365 740,368 750,370 760,368 770,372 780,375 790,380 800,390 810,395 820,400 830,398 840,390 850,388 860,388 870,385 880,383 890,385 900,388 910,390 920,388 930,392 940,395 950,398 960,392 970,385 980,390 990,388 1000,380 1005,392 1010,385 1020,390 1030,385 1040,390 1050,388 1055,390"/>
<polyline class="sr" points="118,398 125,400 130,395 140,395 145,405 150,408 160,410 180,410 190,410 195,405 200,400 210,395 220,392 230,390 240,388 260,388 280,390 300,393 320,392 340,390 350,388 355,385 360,380 370,375 380,372 390,375 400,380 410,375 420,372 430,380 440,385 450,380 460,378 470,380 480,382 490,378 500,380 510,375 520,368 530,368 540,370"/>
</g>

<!-- ===== CHART 10 ===== -->
<line x1="487" y1="1171.5" x2="507" y2="1171.5" stroke="#5b95e6" stroke-width="2.5"/><text x="509" y="1174.5" class="lg">2021年</text>
<line x1="544" y1="1171.5" x2="564" y2="1171.5" stroke="#1f4e88" stroke-width="2.5"/><text x="566" y="1174.5" class="lg">2022年</text>
<line x1="599" y1="1171.5" x2="619" y2="1171.5" stroke="#c00000" stroke-width="2.5"/><text x="621" y="1174.5" class="lg">2023年</text>
<g class="axs" text-anchor="end">
<text x="404" y="1194.7">2000</text><text x="404" y="1212.5">1500</text><text x="404" y="1230.3">1000</text>
<text x="404" y="1248">500</text><text x="404" y="1265.7">0</text><text x="404" y="1283">-500</text>
</g>
<line x1="412" y1="1192" x2="412" y2="1280" class="axl"/>
<line x1="412" y1="1262.7" x2="727" y2="1262.7" class="axl"/>
<g class="axs" text-anchor="end" font-size="8">
<text transform="translate(414,1291) rotate(-45)">1月1日</text>
<text transform="translate(436.4,1291) rotate(-45)">1月26日</text>
<text transform="translate(458.8,1291) rotate(-45)">2月19日</text>
<text transform="translate(481.2,1291) rotate(-45)">3月14日</text>
<text transform="translate(503.6,1291) rotate(-45)">4月7日</text>
<text transform="translate(526,1291) rotate(-45)">4月30日</text>
<text transform="translate(548.4,1291) rotate(-45)">5月26日</text>
<text transform="translate(570.8,1291) rotate(-45)">6月18日</text>
<text transform="translate(593.2,1291) rotate(-45)">7月14日</text>
<text transform="translate(615.6,1291) rotate(-45)">8月10日</text>
<text transform="translate(638,1291) rotate(-45)">9月6日</text>
<text transform="translate(660.4,1291) rotate(-45)">10月8日</text>
<text transform="translate(682.8,1291) rotate(-45)">11月3日</text>
<text transform="translate(705.2,1291) rotate(-45)">11月30日</text>
<text transform="translate(727.6,1291) rotate(-45)">12月27日</text>
</g>
<g transform="translate(377,1130) scale(0.3333333)">
<polyline class="sl" points="108,270 115,270 120,280 125,268 130,265 140,262 150,258 170,255 200,250 230,245 255,240 260,245 270,250 280,255 290,262 300,270 305,275 310,285 320,295 330,305 340,315 350,322 360,322 380,322 400,315 410,310 420,305 430,300 440,295 450,292 460,288 470,285 480,280 490,278 500,277 510,276 520,276 530,290 540,290 560,290 570,292 580,300 590,325 600,328 620,325 640,328 650,338 660,340 670,345 680,338 690,335 700,332 710,333 720,335 725,345 730,375 740,372 750,368 760,370 770,375 780,372 790,355 800,358 810,360 820,360 830,362 840,365 850,370 860,375 870,378 880,378 890,378 900,385 905,400 910,405 915,395 920,400 930,390 940,375 945,355 950,350 955,345 960,345 965,360 970,365 980,365 990,367 1000,368 1020,370 1040,372 1050,378"/>
<polyline class="sd" points="108,385 115,375 120,370 125,355 130,350 135,360 140,362 160,362 180,362 190,368 200,375 205,385 210,400 215,390 220,382 230,380 240,380 250,382 255,370 260,375 270,380 280,370 290,365 295,378 300,370 310,368 320,365 330,360 340,358 350,362 360,358 370,362 375,375 380,360 390,355 400,360 410,355 420,352 430,350 440,352 450,360 460,355 470,360 480,355 485,370 490,375 500,385 510,385 520,382 530,380 540,378 550,378 555,375 560,370 570,372 575,400 580,392 590,380 600,376 610,378 620,385 630,395 640,400 650,405 655,410 660,400 670,395 680,390 690,385 700,388 705,375 710,368 715,345 720,355 730,362 740,365 750,365 760,368 770,372 780,370 790,372 800,375 810,378 820,378 830,378 840,375 845,370 850,378 860,380 870,382 880,382 890,380 900,382 910,385 920,390 930,395 940,400 950,395 960,390 970,398 980,395 990,385 995,400 1000,395 1010,392 1020,395 1025,388 1030,383 1040,383 1050,383"/>
<polyline class="sr" points="108,398 110,385 115,388 120,390 125,385 130,390 135,400 140,402 150,405 160,405 170,405 180,402 185,395 200,393 220,392 230,390 240,392 250,390 255,395 260,398 270,400 280,400 290,402 300,405 310,402 320,395 330,390 340,385 350,380 360,378 370,375 375,372 380,370 385,375 390,370 400,372 410,378 420,380 430,378 440,375 450,375 460,378 470,378 480,375 490,380 500,380 510,378 520,385 530,388 535,375 540,372 550,372 555,375 560,372 570,370"/>
</g>

<!-- ===== DISCLAIMER ===== -->
<rect x="5.5" y="1328.5" width="746" height="18" fill="#0070c0"/>
<text x="9" y="1343" class="t" font-size="15.5" font-weight="bold" fill="#fff">免责声明</text>
<g class="t" font-size="14" fill="#000">
<text x="7" y="1363" textLength="741" lengthAdjust="spacing">本报告由东吴期货研究所制作及发布。报告是基于本公司认为可靠的且目前已公开的信息撰写，本公司力求但不保证该</text>
<text x="7" y="1380.5" textLength="741" lengthAdjust="spacing">信息的准确性和完整性，所表述的意见并不构成对任何人的投资建议，投资者需自行承担风险。未经本公司事先书面授</text>
<text x="7" y="1398">权，不得对本报告进行任何有悖原意的引用、删节、修改、及用于其它用途。</text>
</g>

<rect x="5" y="10" width="747" height="1394" fill="none" stroke="#000" stroke-width="1.6"/>
</svg>
</body></html>
